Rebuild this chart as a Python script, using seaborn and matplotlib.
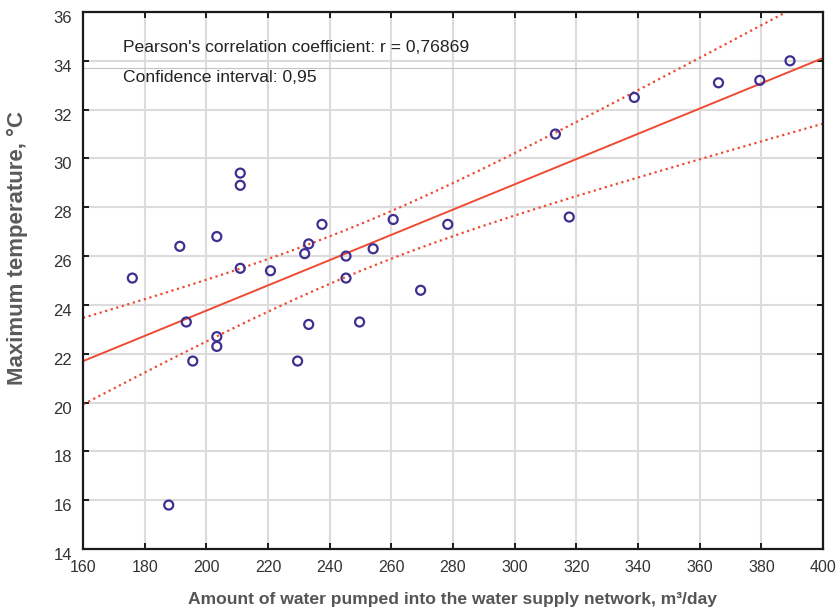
import numpy as np
import pandas as pd
import matplotlib
matplotlib.use("Agg")
import matplotlib.pyplot as plt
import matplotlib.transforms as mtransforms
import seaborn as sns

# ---- data ----
water = [176.0, 187.8, 191.4, 193.5, 195.6, 203.4, 203.4, 203.4, 211.0, 211.0,
         211.0, 220.8, 229.6, 231.9, 233.2, 233.2, 237.5, 245.3, 245.3, 249.7,
         254.1, 260.6, 269.5, 278.3, 313.2, 317.7, 338.8, 366.1, 379.5, 389.3]
tmax = [25.1, 15.8, 26.4, 23.3, 21.7, 26.8, 22.7, 22.3, 29.4, 28.9,
        25.5, 25.4, 21.7, 26.1, 26.5, 23.2, 27.3, 26.0, 25.1, 23.3,
        26.3, 27.5, 24.6, 27.3, 31.0, 27.6, 32.5, 33.1, 33.2, 34.0]
xticks = [160, 180, 200, 220, 240, 260, 280, 300, 320, 340, 360, 380, 400]
yticks = [14, 16, 18, 20, 22, 24, 26, 28, 30, 32, 34, 36]
text_r = "Pearson's correlation coefficient: r = 0,76869"
text_ci = "Confidence interval: 0,95"
xlabel = "Amount of water pumped into the water supply network, m\u00b3/day"
ylabel = "Maximum temperature, \u00b0C"
t_crit = 2.048  # t(0.975, df=28)

df = pd.DataFrame({"water": water, "tmax": tmax})

sns.set_theme(style="whitegrid")
plt.rcParams['font.family'] = ['Liberation Sans', 'DejaVu Sans']

fig = plt.figure(figsize=(8.4, 6.09), dpi=100)
ax = fig.add_axes([83/840, 1-549/609, 740/840, 537/609])
ax.set_facecolor("white")

# regression and analytical confidence band
x = np.asarray(water); y = np.asarray(tmax)
n = len(x)
b, a = np.polyfit(x, y, 1)
resid = y - (a + b * x)
s = np.sqrt(np.sum(resid**2) / (n - 2))
xs = np.linspace(160, 400, 200)
fit = a + b * xs
se = s * np.sqrt(1/n + (xs - x.mean())**2 / np.sum((x - x.mean())**2))
band = pd.DataFrame({"x": xs, "fit": fit, "lo": fit - t_crit*se, "hi": fit + t_crit*se})

red = "#ef4a32"
sns.lineplot(data=band, x="x", y="fit", ax=ax, color=red, lw=1.4)
sns.lineplot(data=band, x="x", y="lo", ax=ax, color=red, lw=1.6,
             linestyle=(0, (1, 1.6)))
sns.lineplot(data=band, x="x", y="hi", ax=ax, color=red, lw=1.6,
             linestyle=(0, (1, 1.6)))

sns.scatterplot(data=df, x="water", y="tmax", ax=ax, marker="o", s=42,
                facecolor="none", edgecolor="#3f2f8f", linewidth=1.6, zorder=5)

ax.axhline(33.72, color="#c4c4c4", lw=0.8, zorder=1)

ax.set_xlim(160, 400)
ax.set_ylim(14, 36)
ax.set_xticks(xticks)
ax.set_yticks(yticks)
ax.grid(True, color="#dcdcdc", lw=1.5)
for sp in ax.spines.values():
    sp.set_color("#1a1a1a")
    sp.set_linewidth(1.6)
    sp.set_visible(True)
ax.tick_params(direction="in", length=4, width=1.4, color="#1a1a1a",
               top=True, right=True, bottom=True, left=True,
               labelsize=11, labelcolor="#333333", pad=8)
for lab in ax.get_xticklabels():
    lab.set_fontsize(11.5)
off = mtransforms.ScaledTranslation(0, -5/100, fig.dpi_scale_trans)
for lab in ax.get_yticklabels():
    lab.set_transform(lab.get_transform() + off)
    lab.set_fontsize(12)

ax.set_xlabel(xlabel, fontsize=12.6, fontweight="bold", color="#555555")
ax.xaxis.set_label_coords(0.5, -(592-549)/537)
ax.set_ylabel(ylabel, fontsize=16, fontweight="bold", color="#5a5a5a")
ax.yaxis.set_label_coords((28-83)/740, (549-248)/537)

ax.text((123-83)/740, 1-(47-12)/537, text_r, transform=ax.transAxes,
        fontsize=12.6, color="#222222", va="center", ha="left")
ax.text((123-83)/740, 1-(77-12)/537, text_ci, transform=ax.transAxes,
        fontsize=12.6, color="#222222", va="center", ha="left")

fig.savefig("out.png", dpi=100, facecolor="white")
